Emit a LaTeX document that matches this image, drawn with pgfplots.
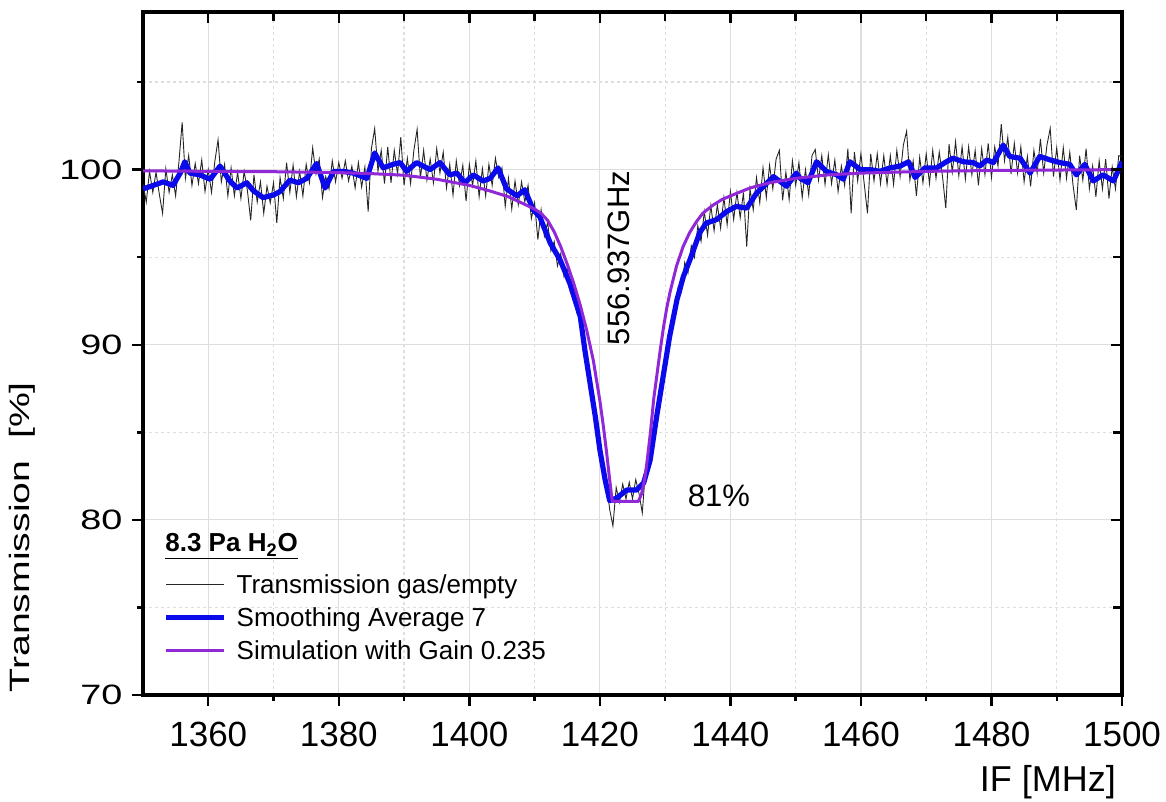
\documentclass[border=0pt]{standalone}
\usepackage{fontspec}
\setmainfont{Liberation Sans}
\usepackage{pgfplots}
\pgfplotsset{compat=1.18}
\usepackage{pgfplotstable}
\definecolor{smoothblue}{RGB}{10,10,235}
\definecolor{simpurple}{RGB}{145,40,215}
\definecolor{gridgray}{RGB}{222,222,222}

\pgfplotstableread{
x y
1350.0 99.2
1350.5 98.15
1351.0 99.9
1351.5 98.7
1352.0 99.85
1352.5 98.6
1353.0 97.5
1353.5 100.05
1354.0 98.7
1354.5 99.7
1355.0 98.5
1355.5 100.4
1356.0 102.7
1356.5 99.5
1357.0 100.8
1357.5 99.1
1358.0 100.35
1358.5 99.2
1359.0 100.55
1359.5 98.75
1360.0 100.0
1360.5 98.7
1361.0 100.45
1361.5 101.7
1362.0 99.3
1362.5 100.3
1363.0 98.5
1363.5 100.1
1364.0 98.5
1364.5 99.85
1365.0 98.35
1365.5 99.9
1366.0 98.8
1366.5 97.1
1367.0 99.7
1367.5 98.15
1368.0 99.3
1368.5 97.5
1369.0 99.05
1369.5 98.1
1370.0 99.25
1370.5 96.95
1371.0 99.55
1371.5 98.35
1372.0 100.4
1372.5 98.7
1373.0 100.25
1373.5 98.45
1374.0 99.9
1374.5 98.5
1375.0 100.3
1375.5 99.25
1376.0 101.25
1376.5 99.75
1377.0 100.6
1377.5 98.4
1378.0 99.6
1378.5 98.9
1379.0 100.5
1379.5 99.3
1380.0 100.4
1380.5 99.5
1381.0 100.5
1381.5 99.35
1382.0 100.2
1382.5 98.95
1383.0 100.4
1383.5 99.0
1384.0 100.15
1384.5 97.6
1385.0 101.2
1385.5 102.35
1386.0 99.9
1386.5 101.1
1387.0 99.2
1387.5 101.3
1388.0 99.25
1388.5 101.1
1389.0 99.75
1389.5 101.85
1390.0 99.1
1390.5 100.65
1391.0 99.2
1391.5 101.1
1392.0 102.3
1392.5 99.5
1393.0 101.1
1393.5 99.4
1394.0 100.6
1394.5 99.25
1395.0 101.2
1395.5 99.8
1396.0 101.0
1396.5 98.95
1397.0 100.3
1397.5 98.55
1398.0 100.5
1398.5 99.1
1399.0 100.25
1399.5 98.2
1400.0 100.3
1400.5 99.1
1401.0 100.5
1401.5 98.45
1402.0 100.05
1402.5 98.5
1403.0 100.3
1403.5 99.1
1404.0 100.65
1404.5 99.55
1405.0 100.1
1405.5 97.9
1406.0 99.5
1406.5 97.75
1407.0 99.35
1407.5 98.0
1408.0 99.3
1408.5 98.15
1409.0 99.1
1409.5 97.2
1410.0 98.1
1410.5 96.0
1411.0 97.7
1411.5 96.2
1412.0 97.0
1412.5 95.35
1413.0 95.9
1413.5 94.5
1414.0 95.2
1414.5 93.9
1415.0 94.4
1415.5 93.0
1416.0 93.3
1416.5 91.8
1417.0 91.9
1417.5 90.0
1418.0 89.4
1418.5 87.5
1419.0 86.9
1419.5 85.1
1420.0 84.4
1420.5 82.5
1421.0 82.1
1421.5 80.6
1422.0 79.65
1422.5 81.85
1423.0 81.0
1423.5 82.05
1424.0 81.2
1424.5 82.15
1425.0 81.2
1425.5 82.3
1426.0 81.5
1426.5 80.4
1427.0 82.9
1427.5 82.8
1428.0 84.5
1428.5 85.1
1429.0 87.0
1429.5 87.4
1430.0 89.3
1430.5 89.6
1431.0 91.6
1431.5 91.6
1432.0 93.3
1432.5 93.0
1433.0 94.7
1433.5 94.1
1434.0 95.65
1434.5 95.0
1435.0 96.8
1435.5 95.9
1436.0 97.6
1436.5 96.25
1437.0 97.95
1437.5 96.5
1438.0 98.0
1438.5 96.65
1439.0 98.4
1439.5 96.85
1440.0 98.75
1440.5 97.15
1441.0 98.7
1441.5 97.25
1442.0 98.7
1442.5 95.6
1443.0 98.9
1443.5 97.7
1444.0 99.55
1444.5 98.1
1445.0 100.1
1445.5 98.4
1446.0 100.25
1446.5 98.9
1447.0 100.6
1447.5 101.1
1448.0 98.25
1448.5 99.85
1449.0 98.3
1449.5 100.5
1450.0 99.1
1450.5 100.4
1451.0 98.4
1451.5 100.0
1452.0 98.55
1452.5 100.8
1453.0 101.15
1453.5 99.4
1454.0 100.8
1454.5 99.15
1455.0 100.85
1455.5 99.2
1456.0 100.55
1456.5 98.75
1457.0 100.2
1457.5 99.1
1458.0 101.2
1458.5 97.5
1459.0 101.0
1459.5 99.35
1460.0 100.9
1460.5 99.2
1461.0 97.5
1461.5 100.9
1462.0 99.35
1462.5 100.9
1463.0 99.2
1463.5 100.8
1464.0 99.15
1464.5 100.8
1465.0 99.15
1465.5 101.1
1466.0 99.6
1466.5 101.4
1467.0 102.2
1467.5 99.4
1468.0 100.5
1468.5 98.5
1469.0 100.7
1469.5 99.25
1470.0 100.9
1470.5 99.2
1471.0 101.1
1471.5 99.5
1472.0 101.0
1472.5 99.6
1473.0 97.8
1473.5 101.45
1474.0 99.85
1474.5 101.6
1475.0 99.65
1475.5 101.3
1476.0 99.45
1476.5 101.3
1477.0 99.7
1477.5 101.1
1478.0 99.1
1478.5 101.2
1479.0 99.7
1479.5 101.5
1480.0 99.55
1480.5 101.3
1481.0 100.2
1481.5 102.6
1482.0 100.5
1482.5 101.85
1483.0 99.75
1483.5 101.5
1484.0 99.8
1484.5 101.3
1485.0 99.3
1485.5 100.75
1486.0 99.05
1486.5 101.1
1487.0 99.8
1487.5 101.75
1488.0 99.8
1488.5 101.4
1489.0 102.35
1489.5 99.6
1490.0 101.25
1490.5 99.4
1491.0 101.25
1491.5 99.5
1492.0 101.0
1492.5 99.1
1493.0 97.7
1493.5 100.8
1494.0 99.4
1494.5 101.2
1495.0 98.9
1495.5 100.2
1496.0 98.45
1496.5 100.5
1497.0 98.9
1497.5 100.6
1498.0 98.35
1498.5 100.15
1499.0 98.9
1499.5 100.8
1500.0 100.75
}\rawdata

\pgfplotstableread{
x y
1350.0 98.9
1351.6 99.1
1353.1 99.3
1354.6 99.1
1355.7 99.8
1356.4 100.45
1357.2 99.8
1358.7 99.7
1360.3 99.45
1361.8 100.2
1363.3 99.35
1364.4 98.95
1365.9 99.25
1366.9 98.8
1368.4 98.4
1370.0 98.55
1371.0 98.75
1372.5 99.4
1373.8 99.25
1375.1 99.5
1376.6 100.35
1377.9 98.95
1379.2 99.9
1380.7 99.9
1382.2 99.8
1384.3 99.5
1385.5 100.95
1386.8 100.1
1388.3 100.3
1389.4 100.4
1390.4 99.9
1391.9 100.4
1394.0 100.0
1395.5 100.4
1397.0 99.7
1398.1 99.8
1399.3 99.25
1400.6 99.7
1402.1 99.35
1403.2 99.5
1404.4 100.1
1405.7 98.9
1407.3 98.5
1408.5 98.85
1409.8 97.7
1410.8 97.3
1412.4 95.8
1413.9 94.85
1415.4 93.5
1417.0 91.6
1417.7 89.7
1418.5 87.8
1419.3 85.9
1420.0 84.0
1420.8 82.3
1421.5 81.1
1422.6 81.25
1424.1 81.7
1425.6 81.7
1426.7 82.1
1427.7 83.4
1428.7 85.9
1429.7 88.2
1430.7 90.5
1431.8 92.55
1432.8 93.9
1433.8 94.85
1435.3 96.4
1436.3 96.95
1437.9 97.15
1439.4 97.6
1440.9 97.9
1442.5 97.8
1444.0 98.65
1446.6 99.6
1448.6 99.05
1450.1 99.8
1450.7 99.5
1451.9 99.25
1453.2 100.45
1454.7 99.9
1456.3 99.7
1457.3 99.45
1458.3 100.45
1459.9 100.0
1461.4 100.0
1462.9 99.9
1464.5 100.1
1466.0 100.2
1467.3 100.45
1468.3 99.55
1469.8 100.1
1471.6 100.1
1473.1 100.45
1474.1 100.65
1475.7 100.45
1477.2 100.4
1478.2 100.2
1479.3 100.55
1480.3 100.4
1481.8 101.4
1482.8 100.75
1484.4 100.65
1485.9 99.8
1487.4 100.75
1489.0 100.55
1490.5 100.4
1492.0 100.3
1493.0 99.7
1494.3 100.3
1495.6 99.35
1497.1 99.7
1498.7 99.35
1500.0 100.45
}\smoothdata

\pgfplotstableread{
x y
1350 99.93
1360 99.9
1370 99.88
1380 99.83
1385 99.77
1390 99.68
1395 99.45
1400 99.1
1403 98.8
1406 98.45
1408 98.1
1410 97.75
1411 97.5
1412 97.1
1413 96.45
1414 95.6
1415 94.6
1416 93.5
1417 92.25
1418 90.8
1419 89.1
1420 86.8
1420.5 85.45
1421 83.95
1421.5 82.3
1421.9 81.05
1425.9 81.05
1426.4 81.5
1426.9 82.4
1427.25 83.4
1427.75 85.0
1428.25 86.9
1428.75 88.3
1429.25 89.7
1429.75 91.0
1430.25 92.1
1430.75 93.0
1431.75 94.5
1432.75 95.6
1433.75 96.4
1434.75 97.0
1435.75 97.5
1437.25 97.95
1438.75 98.3
1441 98.65
1443 98.95
1446 99.25
1450 99.5
1455 99.7
1460 99.8
1470 99.9
1480 99.95
1500 100.0
}\simdata

\begin{document}
\begin{tikzpicture}
\begin{axis}[
  scale only axis, width=489.5pt, height=341.5pt,
  xmin=1350, xmax=1500, ymin=70, ymax=109,
  xtick={1360,1380,...,1500}, minor xtick={1370,1390,...,1490},
  ytick={70,80,90,100}, minor ytick={75,85,95,105},
  xtick pos=bottom, ytick pos=left, tick align=outside,
  major tick length=5.5pt, minor tick length=3pt,
  tick style={black, line width=1.2pt},
  axis line style={black, line width=1.6pt},
  grid=both,
  major grid style={gridgray, line width=0.6pt},
  minor grid style={gridgray, line width=0.6pt, dash pattern=on 1.5pt off 1.5pt},
  /pgf/number format/assume math mode=true,
  /pgf/number format/1000 sep={},
  xticklabel style={font=\fontsize{17.5}{17.5}\selectfont, yshift=-4.5pt},
  yticklabel style={font=\fontsize{14}{14}\selectfont, xscale=1.35},
  xlabel={IF [MHz]},
  xlabel style={font=\fontsize{18}{18}\selectfont, at={(axis description cs:1.001,-0.1406)}, anchor=base east},
  ylabel={Transmission\ \ [\%]},
  ylabel style={font=\fontsize{14}{14}\selectfont, xscale=1.4, at={(axis description cs:-0.1236,0.231)}, anchor=center},
  legend style={draw=none, fill=none, at={(axis description cs:0.0205,0.1811)}, anchor=north west,
    inner sep=0pt, column sep=5pt, row sep=3.4pt, font=\fontsize{13}{13}\selectfont,
    nodes={inner sep=0pt, text height=11pt, text depth=2pt}},
  legend cell align=left,
  legend image code/.code={\draw[#1] (0pt,0pt) -- (29pt,0pt);},
]
\addplot[black!85, line width=0.45pt] table {\rawdata};
\addlegendentry{Transmission gas/empty}
\addplot[smoothblue, line width=2.6pt, line join=round] table {\smoothdata};
\addlegendentry{Smoothing Average 7}
\addplot[simpurple, line width=1.5pt, line join=round] table {\simdata};
\addlegendentry{Simulation with Gain 0.235}
\node[rotate=90, font=\fontsize{15.5}{15.5}\selectfont] at (axis cs:1422.9,94.95) {556.937GHz};
\node[font=\fontsize{15.5}{15.5}\selectfont] at (axis cs:1438.25,81.38) {81\%};
\node[anchor=base west, inner sep=0pt, font=\bfseries\fontsize{13}{13}\selectfont] at (axis cs:1353.37,78.19) {\underline{8.3 Pa H\textsubscript{2}O}};
\end{axis}
\begin{axis}[
  scale only axis, width=489.5pt, height=341.5pt,
  xmin=1350, xmax=1500, ymin=70, ymax=109,
  xtick={1360,1380,...,1500}, minor xtick={1370,1390,...,1490},
  ytick={70,80,90,100}, minor ytick={75,85,95,105},
  xtick pos=top, ytick pos=right, tick align=inside,
  xticklabels={}, yticklabels={},
  major tick length=5.5pt, minor tick length=4.5pt,
  tick style={black, line width=1.2pt},
  axis line style={draw=none},
]
\end{axis}
\pgfresetboundingbox
\path ([shift={(-71.5pt,-53.5pt)}]current axis.south west) rectangle ([shift={(22pt,6pt)}]current axis.north east);
\end{tikzpicture}
\end{document}
